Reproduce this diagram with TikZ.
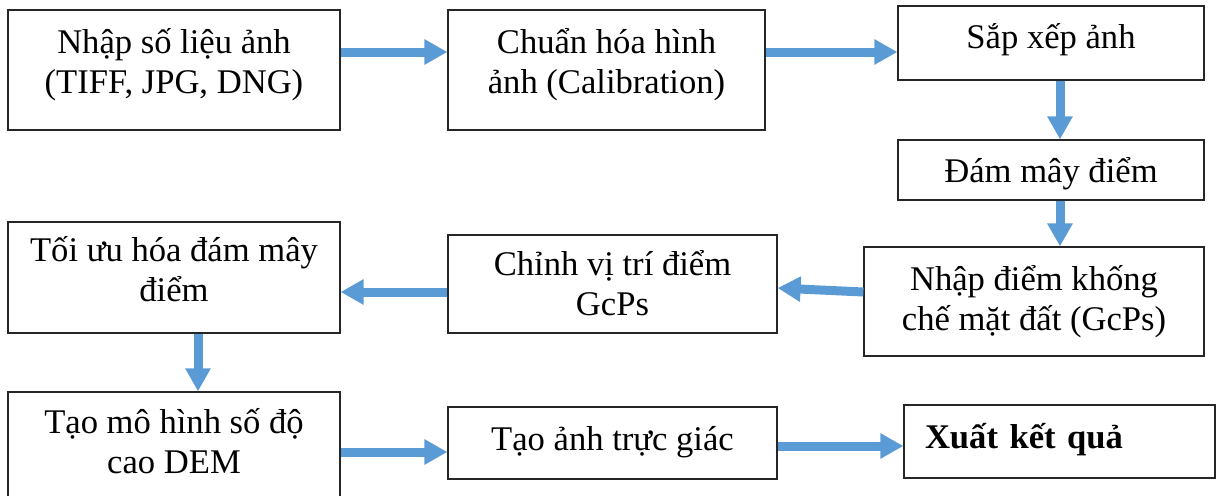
\documentclass[tikz,border=0pt]{standalone}
\usepackage{fontspec}
\setmainfont{Liberation Serif}
\usetikzlibrary{arrows.meta}
\definecolor{flowblue}{HTML}{5B9BD5}

\begin{document}
\begin{tikzpicture}[x=0.5pt,y=-0.5pt,
  box/.style={draw=black!85,line width=0.6pt,align=center,inner sep=2pt,
    font=\fontsize{17.3}{20}\selectfont,text height=12pt},
  flow/.style={flowblue,line width=4.5pt,-{Triangle[length=11.5pt,width=12pt]}}]
\useasboundingbox (0,0) rectangle (1222,495);

\node[box,minimum width=166pt,minimum height=60pt,text height=25pt,text depth=2pt] (p_import) at (174,70) {Nhập số liệu ảnh\\(TIFF, JPG, DNG)};
\node[box,minimum width=158.5pt,minimum height=60pt,text height=25pt,text depth=2pt] (p_calib) at (606.5,70) {Chuẩn hóa hình\\ảnh (Calibration)};
\node[box,minimum width=153pt,minimum height=37pt,text depth=7pt] (p_sort) at (1051,43) {Sắp xếp ảnh};
\node[box,minimum width=153pt,minimum height=30pt,text depth=0pt] (p_cloud) at (1051,170) {Đám mây điểm};
\node[box,minimum width=170pt,minimum height=54.5pt,text height=29pt,text depth=0.5pt] (p_gcp) at (1034,301.5) {Nhập điểm khống\\chế mặt đất (GcPs)};
\node[box,minimum width=164.5pt,minimum height=49pt,text height=31pt,text depth=0pt] (p_adjust) at (612.5,284) {Chỉnh vị trí điểm\\GcPs};
\node[box,minimum width=166pt,minimum height=55.5pt,text height=25pt,text depth=1pt] (p_optim) at (174,277.5) {Tối ưu hóa đám mây\\điểm};
\node[box,minimum width=166pt,minimum height=53pt,text height=29pt,text depth=0.7pt] (p_dem) at (174,445) {Tạo mô hình số độ\\cao DEM};
\node[box,minimum width=164.5pt,minimum height=36pt,text depth=5pt] (p_ortho) at (612.5,443) {Tạo ảnh trực giác};
\node[box,minimum width=155.5pt,minimum height=36.5pt,text depth=5pt,
  inner xsep=10.5pt,text width=134.5pt,align=left,font=\fontsize{17.3}{20}\selectfont\bfseries] (p_export) at (1059.5,441.5) {Xuất kết quả};

\path[flow]
([yshift=9pt]p_import.east) edge ([yshift=9pt]p_calib.west)
([yshift=9pt]p_calib.east) edge ([yshift=-4.5pt]p_sort.west)
([xshift=4.5pt]p_sort.south) edge ([xshift=4.5pt]p_cloud.north)
([xshift=4.5pt]p_cloud.south) edge ([xshift=13pt]p_gcp.north)
([yshift=4.75pt]p_gcp.west) edge ([yshift=-2pt]p_adjust.east)
([yshift=-4pt]p_adjust.west) edge ([yshift=-7.25pt]p_optim.east)
([xshift=12pt]p_optim.south) edge ([xshift=12pt]p_dem.north)
([yshift=-3.5pt]p_dem.east) edge ([yshift=-4.5pt]p_ortho.west)
([yshift=-1.5pt]p_ortho.east) edge ([yshift=-2.25pt]p_export.west)
; % flow arrows
\end{tikzpicture}
\end{document}
